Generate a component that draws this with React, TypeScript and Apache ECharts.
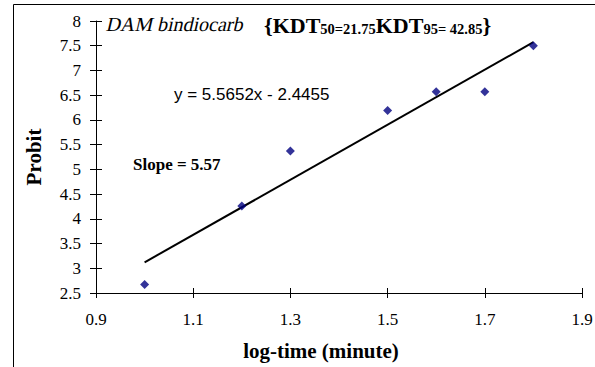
import React, { useEffect, useRef } from "react";
import * as echarts from "echarts";

const logTime = [1.0, 1.2, 1.3, 1.5, 1.6, 1.7, 1.8];
const probit = [2.67, 4.26, 5.37, 6.19, 6.57, 6.57, 7.5];
const trendX = [1.0, 1.8];
const trendY = [3.12, 7.572];
const xTicks = [0.9, 1.1, 1.3, 1.5, 1.7, 1.9];

const serif = "Liberation Serif";
const sans = "Liberation Sans";
const titleText = "DAM bindiocarb";

export default function App() {
  const ref = useRef<HTMLDivElement>(null);
  useEffect(() => {
    if (!ref.current) return;
    const root = ref.current;
    const chart = echarts.init(root, null, { renderer: "svg" });
    chart.setOption({
      animation: false,
      backgroundColor: "#fff",
      grid: { left: 96, right: 13, top: 21, bottom: 74, outerBoundsMode: "none" },
      xAxis: [
        {
          type: "value",
          min: 0.9,
          max: 1.9,
          name: "log-time (minute)",
          nameLocation: "middle",
          nameGap: 47,
          nameTextStyle: {
            fontFamily: serif,
            fontSize: 21,
            fontWeight: "bold",
            color: "#000",
            padding: [0, 36, 0, 0],
          },
          axisLine: { show: true, onZero: false, lineStyle: { color: "#000", width: 1 } },
          axisTick: { show: true, length: 5, customValues: xTicks, lineStyle: { color: "#000" } },
          axisLabel: {
            fontFamily: serif,
            fontSize: 17,
            color: "#000",
            margin: 18,
            customValues: xTicks,
            formatter: (v: number) => v.toFixed(1),
          },
          splitLine: { show: false },
        },
        {
          type: "value",
          position: "bottom",
          min: 0.9,
          max: 1.9,
          axisLine: { show: false },
          axisTick: { show: true, inside: true, length: 5, customValues: xTicks, lineStyle: { color: "#000" } },
          axisLabel: { show: false },
          splitLine: { show: false },
        },
      ],
      yAxis: [
        {
          type: "value",
          min: 2.5,
          max: 8,
          interval: 0.5,
          name: "Probit",
          nameLocation: "middle",
          nameRotate: 90,
          nameGap: 52,
          nameTextStyle: {
            fontFamily: serif,
            fontSize: 21,
            fontWeight: "bold",
            color: "#000",
          },
          axisLine: { show: true, onZero: false, lineStyle: { color: "#000", width: 1 } },
          axisTick: { show: true, length: 6, lineStyle: { color: "#000" } },
          axisLabel: { fontFamily: serif, fontSize: 17, color: "#000", margin: 15 },
          splitLine: { show: false },
        },
        {
          type: "value",
          position: "left",
          min: 2.5,
          max: 8,
          interval: 0.5,
          axisLine: { show: false },
          axisTick: { show: true, inside: true, length: 6, lineStyle: { color: "#000" } },
          axisLabel: { show: false },
          splitLine: { show: false },
        },
      ],
      series: [
        {
          type: "line",
          data: trendX.map((x, i) => [x, trendY[i]]),
          symbol: "none",
          lineStyle: { color: "#000", width: 2 },
          z: 2,
        },
        {
          type: "scatter",
          data: logTime.map((x, i) => [x, probit[i]]),
          symbol: "diamond",
          symbolSize: 9,
          itemStyle: { color: "#000080" },
          z: 3,
        },
      ],
      graphic: [
        {
          type: "rect",
          shape: { x: 13.5, y: 4.5, width: 600, height: 400 },
          style: { fill: "none", stroke: "#000", lineWidth: 1 },
          silent: true,
        },
        {
          type: "text",
          x: 107,
          y: 24,
          style: {
            text: titleText,
            fontFamily: serif,
            fontSize: 20,
            fill: "#000",
            verticalAlign: "middle",
          },
        },
        {
          type: "text",
          x: 264,
          y: 25,
          style: {
            text: "{{b|KDT}{s|50=21.75}{b|KDT}{s|95= 42.85}}",
            fontFamily: serif,
            fontWeight: "bold",
            fontSize: 22,
            fill: "#000",
            verticalAlign: "middle",
            rich: {
              b: { fontFamily: serif, fontWeight: "bold", fontSize: 22, fill: "#000", verticalAlign: "bottom" },
              s: { fontFamily: serif, fontWeight: "bold", fontSize: 14.5, fill: "#000", verticalAlign: "bottom" },
            },
          },
        },
        {
          type: "text",
          x: 174,
          y: 94,
          style: {
            text: "y = 5.5652x - 2.4455",
            fontFamily: sans,
            fontSize: 17,
            fill: "#000",
            verticalAlign: "middle",
          },
        },
        {
          type: "text",
          x: 133,
          y: 164,
          style: {
            text: "Slope = 5.57",
            fontFamily: serif,
            fontWeight: "bold",
            fontSize: 17,
            fill: "#000",
            verticalAlign: "middle",
          },
        },
      ],
    });
    const slant = () => {
      root.querySelectorAll("text").forEach((t) => {
        if (t.textContent === titleText && !t.getAttribute("data-slanted")) {
          const tr = t.getAttribute("transform") || "";
          const x = parseFloat(t.getAttribute("x") || "0");
          const y = parseFloat(t.getAttribute("y") || "0");
          t.setAttribute(
            "transform",
            `${tr} translate(${x} ${y}) skewX(-13) translate(${-x} ${-y})`.trim()
          );
          t.setAttribute("data-slanted", "1");
        }
      });
    };
    slant();
    const raf = requestAnimationFrame(slant);
    chart.on("finished", slant);
    return () => {
      cancelAnimationFrame(raf);
      chart.dispose();
    };
  }, []);
  return <div ref={ref} style={{ width: 595, height: 367, position: "absolute", left: 0, top: 0 }} />;
}
